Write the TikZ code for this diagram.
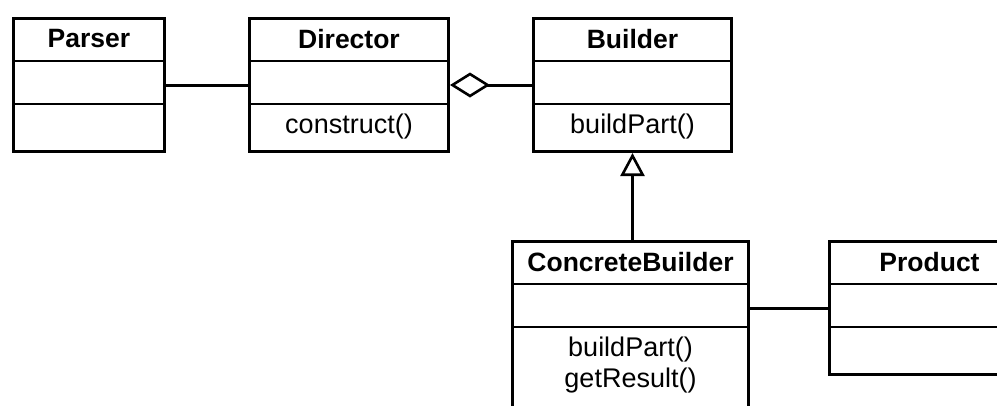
\documentclass[tikz,border=0pt]{standalone}
\usepackage{fontspec}
\setmainfont{Liberation Sans}
\usetikzlibrary{arrows.meta}

\tikzset{
  classbox/.style={draw, line width=3pt, anchor=north west, inner sep=0pt},
  divider/.style={line width=2pt},
  classname/.style={font=\fontsize{26.5}{30}\selectfont\bfseries, inner sep=0pt},
  method/.style={font=\fontsize{27}{31}\selectfont, inner sep=0pt, align=center},
  assoc/.style={line width=3pt},
}

\begin{document}
\begin{tikzpicture}[x=1pt, y=-1pt]
	\useasboundingbox (0,0) rectangle (997,405);
	\clip (0,0) rectangle (997,405);
	% class boxes
	\node[classbox, minimum width=151pt, minimum height=133pt] (parser) at (12,17) {};
	\node[classbox, minimum width=199pt, minimum height=133pt] (director) at (248,17) {};
	\node[classbox, minimum width=198pt, minimum height=133pt] (builder) at (532,17) {};
	\node[classbox, minimum width=236pt, minimum height=200pt] (concrete) at (511,240) {};
	\node[classbox, minimum width=200pt, minimum height=133pt] (product) at (828,240) {};
	% compartments
	\foreach \c in {parser, director, builder, concrete, product} {
		\draw[divider] ([yshift=-44pt]\c.north west) -- ([yshift=-44pt]\c.north east);
		\draw[divider] ([yshift=-87pt]\c.north west) -- ([yshift=-87pt]\c.north east);
	}
	% names and operations
	\node[classname] (parsername) at ([yshift=-22pt]parser.north) {Parser};
	\node[classname] (directorname) at ([yshift=-22pt]director.north) {Director};
	\node[classname] (buildername) at ([yshift=-22pt]builder.north) {Builder};
	\node[classname] (concretename) at ([yshift=-22pt]concrete.north) {ConcreteBuilder};
	\node[classname] (productname) at ([yshift=-22pt]product.north) {Product};
	\node[method] (construct) at ([yshift=-110pt]director.north) {construct()};
	\node[method] (buildpart) at ([yshift=-110pt]builder.north) {buildPart()};
	\node[method, anchor=north] (concreteops) at ([yshift=-97pt]concrete.north) {buildPart()\\getResult()};
	% relations
	\draw[assoc] (parser.east) -- (director.west);
	\draw[assoc, {Diamond[open, length=40pt, width=25pt, line width=2.6pt]}-] (director.east) -- (builder.west);
	\draw[assoc, -{Triangle[open, length=23pt, width=24pt, line width=2.6pt]}] (concrete.north -| builder.south) -- (builder.south);
	\draw[assoc] (concrete.east |- product.west) -- (product.west);
\end{tikzpicture}
\end{document}
